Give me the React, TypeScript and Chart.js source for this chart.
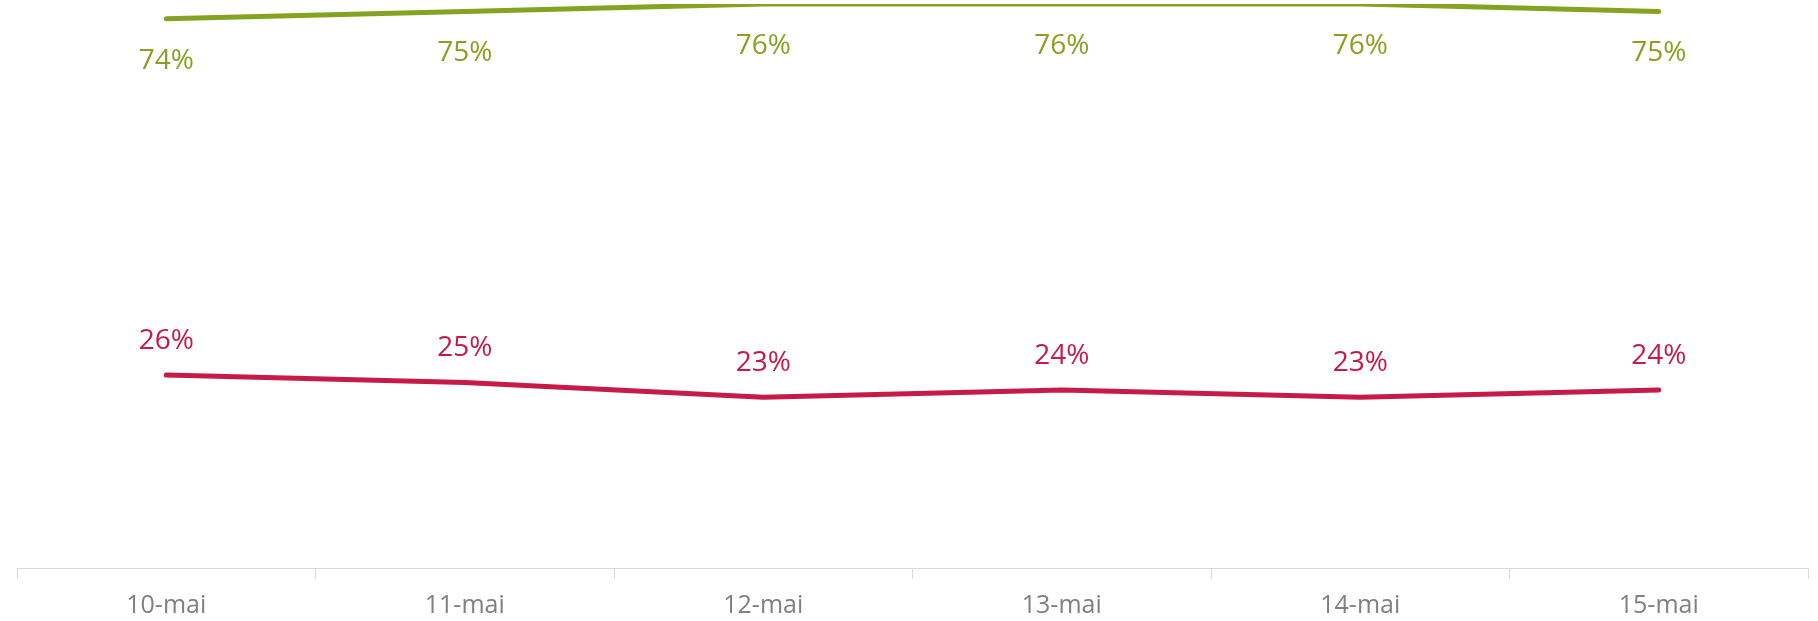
import React, { useEffect, useRef } from "react";
import { Chart, registerables } from "chart.js";

Chart.register(...registerables);

const categories = ["10-mai", "11-mai", "12-mai", "13-mai", "14-mai", "15-mai"];
const greenValues = [74, 75, 76, 76, 76, 75];
const redValues = [26, 25, 23, 24, 23, 24];

const GREEN = "#86A221";
const RED = "#C71A47";
const FONT = "'Segoe UI', 'Open Sans', 'Noto Sans', sans-serif";

const labelPlugin = {
  id: "pointLabels",
  afterDatasetsDraw(chart: any) {
    const ctx = chart.ctx;
    ctx.save();
    ctx.font = `28px ${FONT}`;
    ctx.textAlign = "center";
    ctx.textBaseline = "middle";
    chart.data.datasets.forEach((ds: any, i: number) => {
      const meta = chart.getDatasetMeta(i);
      const below = ds.labelPos === "below";
      ctx.fillStyle = ds.borderColor;
      meta.data.forEach((pt: any, j: number) => {
        const v = ds.data[j];
        const y = below ? pt.y + 42 : pt.y - 34;
        ctx.fillText(`${v}%`, pt.x, y);
      });
    });
    ctx.restore();
  },
};

export default function App() {
  const ref = useRef<HTMLCanvasElement | null>(null);
  useEffect(() => {
    if (!ref.current) return;
    const chart = new Chart(ref.current, {
      type: "line",
      data: {
        labels: categories,
        datasets: [
          {
            label: "A",
            data: greenValues,
            borderColor: GREEN,
            backgroundColor: GREEN,
            borderWidth: 5,
            pointRadius: 0,
            borderCapStyle: "round",
            borderJoinStyle: "round",
            tension: 0,
            labelPos: "below",
          } as any,
          {
            label: "B",
            data: redValues,
            borderColor: RED,
            backgroundColor: RED,
            borderWidth: 5,
            pointRadius: 0,
            borderCapStyle: "round",
            borderJoinStyle: "round",
            tension: 0,
            labelPos: "above",
          } as any,
        ],
      },
      options: {
        animation: false,
        responsive: true,
        maintainAspectRatio: false,
        layout: { padding: { left: 17, right: 10, top: 4, bottom: 0 } },
        plugins: {
          legend: { display: false },
          tooltip: { enabled: false },
        },
        scales: {
          x: {
            offset: true,
            afterFit: (scale: any) => {
              scale.height = 53;
            },
            grid: {
              offset: true,
              drawOnChartArea: false,
              drawTicks: true,
              tickLength: 11,
              color: "#DADADA",
            },
            border: { color: "#DADADA", width: 1 },
            ticks: {
              color: "#808080",
              padding: 12,
              font: { family: FONT, size: 25 },
            },
          },
          y: {
            display: false,
            min: 0,
            max: 76,
          },
        },
      },
      plugins: [labelPlugin],
    });
    return () => chart.destroy();
  }, []);
  return (
    <div style={{ position: "absolute", left: 0, top: 0, width: 1818, height: 621 }}>
      <canvas ref={ref} />
    </div>
  );
}
